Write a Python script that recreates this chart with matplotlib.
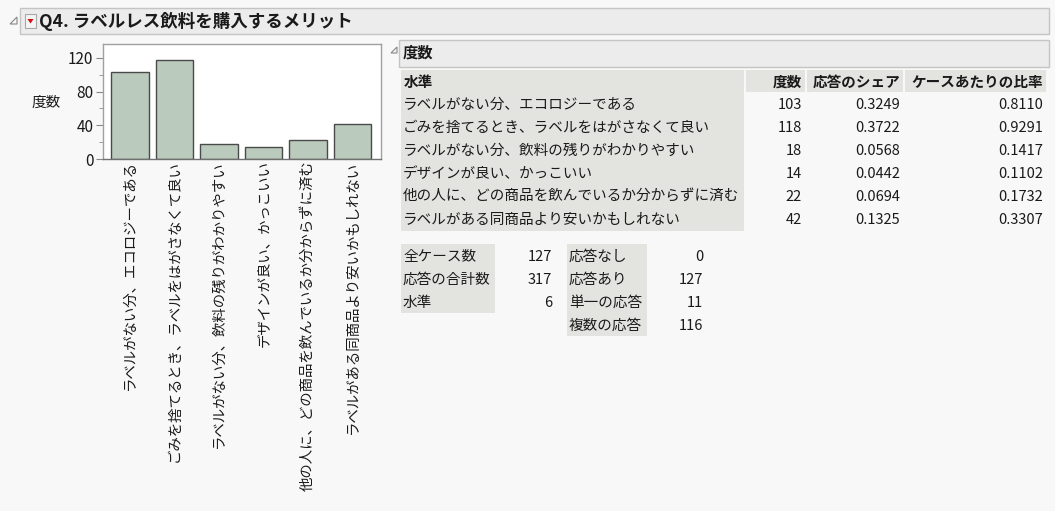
import matplotlib.pyplot as plt
from matplotlib.patches import Rectangle, Polygon
from matplotlib.ticker import MultipleLocator

plt.rcParams['font.family'] = ['Noto Sans CJK JP', 'DejaVu Sans']

# data
title = "Q4. ラベルレス飲料を購入するメリット"
levels = ["ラベルがない分、エコロジーである",
          "ごみを捨てるとき、ラベルをはがさなくて良い",
          "ラベルがない分、飲料の残りがわかりやすい",
          "デザインが良い、かっこいい",
          "他の人に、どの商品を飲んでいるか分からずに済む",
          "ラベルがある同商品より安いかもしれない"]
counts = [103, 118, 18, 14, 22, 42]
share = [0.3249, 0.3722, 0.0568, 0.0442, 0.0694, 0.1325]
per_case = [0.8110, 0.9291, 0.1417, 0.1102, 0.1732, 0.3307]
headers = ["水準", "度数", "応答のシェア", "ケースあたりの比率"]
sum1_labels = ["全ケース数", "応答の合計数", "水準"]
sum1_values = [127, 317, 6]
sum2_labels = ["応答なし", "応答あり", "単一の応答", "複数の応答"]
sum2_values = [0, 127, 11, 116]

W, H = 1055, 511
fig = plt.figure(figsize=(W / 100, H / 100), dpi=100)
fig.patch.set_facecolor('#f8f8f8')

# overlay in pixel coords
bg = fig.add_axes([0, 0, 1, 1])
bg.set_xlim(0, W)
bg.set_ylim(H, 0)
bg.axis('off')

txt = '#1a1a1a'
cellbg = '#e3e3df'
fs = 10.5
bl = 5.5  # centre -> baseline offset in px


def put(x, yc, s, ha='left', **kw):
    kw.setdefault('fontsize', fs)
    bg.text(x, yc + bl, s, color=txt, va='baseline', ha=ha, **kw)


# outline header
bg.add_patch(Rectangle((20, 8), 1029, 26, fc='#ececec', ec='#c4c4c4', lw=1))
bg.add_patch(Polygon([(10, 24), (17, 24), (17, 17)], closed=True, fc='none', ec='#888888', lw=0.8))
bg.add_patch(Rectangle((25, 14), 11, 14, fc='#f4f4f4', ec='#a8a8a8', lw=0.8))
bg.add_patch(Polygon([(27.5, 19), (33.5, 19), (30.5, 23.5)], closed=True, fc='#d01010', ec='none'))
put(39, 21.5, title, fontsize=12.6, fontweight='bold')

# frequency sub-header
bg.add_patch(Polygon([(391, 53), (397, 53), (397, 47)], closed=True, fc='none', ec='#888888', lw=0.8))
bg.add_patch(Rectangle((399, 40), 650, 27, fc='#ececec', ec='#c4c4c4', lw=1))
put(403, 52.5, "度数", fontsize=11, fontweight='bold')

# table header cells
col_bounds = [(401, 744), (746, 805), (807, 903), (905, 1046)]
for (x0, x1), h in zip(col_bounds, headers):
    bg.add_patch(Rectangle((x0, 70), x1 - x0, 22, fc=cellbg, ec='none'))
for (x0, x1), h in zip(col_bounds, headers):
    if h == headers[0]:
        put(x0 + 3, 81.5, h, fontweight='bold')
    else:
        put(x1 - 3, 81.5, h, ha='right', fontweight='bold')

# table body
row0, rh = 103.5, 23
bg.add_patch(Rectangle((401, 92), 343, rh * len(levels) + 1, fc=cellbg, ec='none'))
for i, (lv, c, s, p) in enumerate(zip(levels, counts, share, per_case)):
    y = row0 + i * rh
    put(403, y, lv)
    put(802, y, f"{c}", ha='right')
    put(900, y, f"{s:.4f}", ha='right')
    put(1043, y, f"{p:.4f}", ha='right')

# summaries
bg.add_patch(Rectangle((401, 244), 94, rh * len(sum1_labels), fc=cellbg, ec='none'))
for i, (lb, v) in enumerate(zip(sum1_labels, sum1_values)):
    y = 255.5 + i * rh
    put(403, y, lb)
    put(552, y, f"{v}", ha='right')
bg.add_patch(Rectangle((567, 244), 80, rh * len(sum2_labels), fc=cellbg, ec='none'))
for i, (lb, v) in enumerate(zip(sum2_labels, sum2_values)):
    y = 255.5 + i * rh
    put(569, y, lb)
    put(703, y, f"{v}", ha='right')

# bar chart
ax = fig.add_axes([103 / W, (H - 159) / H, 278 / W, 115 / H])
ax.set_facecolor('white')
xs = list(range(len(levels)))
ax.bar(xs, counts, width=0.84, color='#bacabc', edgecolor='#4a4a4a', linewidth=1)
ax.set_xlim(-0.61, 5.64)
ax.set_ylim(0, 136.5)
ax.yaxis.set_major_locator(MultipleLocator(40))
ax.yaxis.set_minor_locator(MultipleLocator(20))
ax.tick_params(axis='y', which='major', length=5, color='#888888', labelsize=11, labelcolor=txt, pad=2)
ax.tick_params(axis='y', which='minor', length=3, color='#888888')
ax.set_xticks(xs)
ax.set_xticklabels(levels, rotation=90, fontsize=10.4, color=txt, va='top', ha='center')
ax.tick_params(axis='x', length=0, pad=1)
for sp in ax.spines.values():
    sp.set_color('#a0a0a0')
    sp.set_linewidth(1)
ax.spines['bottom'].set_color('#707070')
put(46, 101.5, "度数", ha='center')

fig.savefig('out.png', dpi=100, facecolor=fig.get_facecolor())
